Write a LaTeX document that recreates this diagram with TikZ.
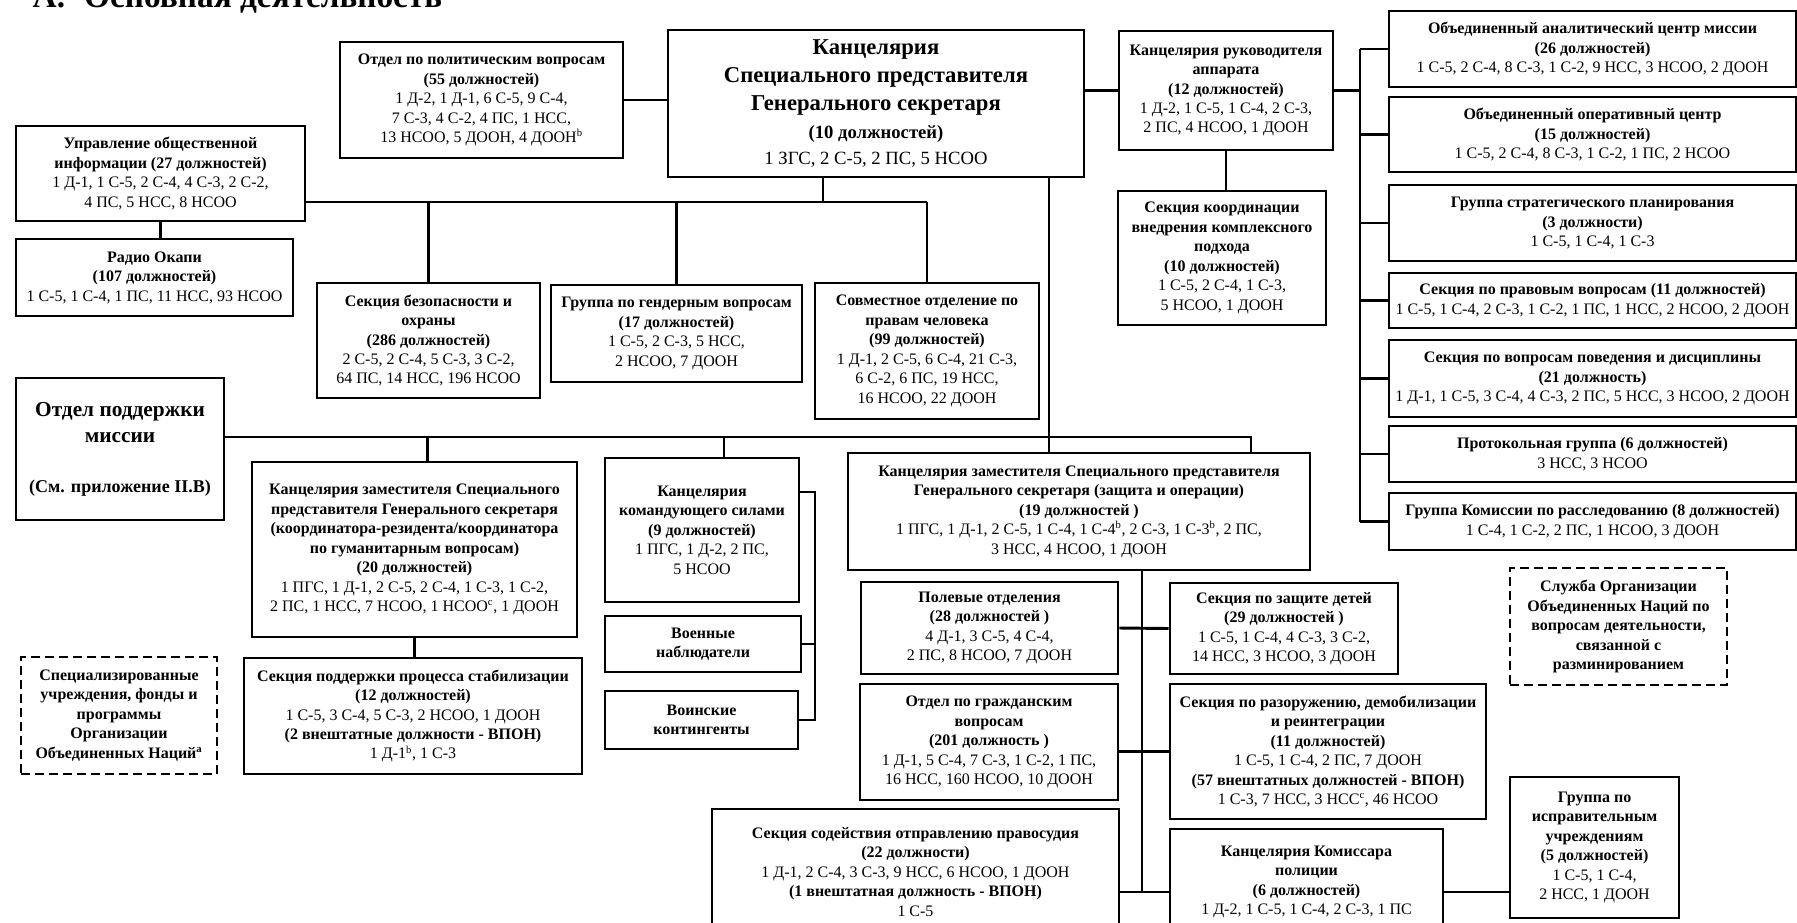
\documentclass[tikz,border=0pt]{standalone}
\usepackage{fontspec}
\setmainfont{Liberation Serif}
\newcommand{\hd}[1]{\textbf{#1}}
% box from (x1,y1) to (x2,y2), in pixels of the page
\newcommand{\orgbox}[7][]{%
  \pgfmathsetmacro{\bcx}{(#3+#5)/2}%
  \pgfmathsetmacro{\bcy}{(#4+#6)/2}%
  \pgfmathsetmacro{\bwd}{(#5-#3)*0.75}%
  \pgfmathsetmacro{\bht}{(#6-#4)*0.75}%
  \node[orgunit,#1,minimum width=\bwd pt,minimum height=\bht pt] (#2) at (\bcx,\bcy) {#7};}
\tikzset{
  orgunit/.style={draw, line width=2.2pt, align=center, inner sep=1pt,
    font=\fontsize{12}{14.6}\selectfont},
  allbold/.style={font=\fontsize{12}{14.6}\selectfont\bfseries},
  dashbox/.style={dash pattern=on 7pt off 3.5pt},
  link/.style={line width=2.2pt}
}
\begin{document}
\begin{tikzpicture}[x=0.75pt,y=-0.75pt]
  \useasboundingbox (0,0) rectangle (1797,922);
  \clip (0,0) rectangle (1797,922);

  \node[anchor=base west, font=\fontsize{25}{30}\selectfont\bfseries] (ttl) at (28,7) {А.\hspace{8pt} Основная деятельность};

  % top row
  \orgbox{polit}{340}{42}{623}{158}{\hd{Отдел по политическим вопросам}\\ \hd{(55 должностей)}\\ 1 Д-2, 1 Д-1, 6 С-5, 9 С-4,\\ 7 С-3, 4 С-2, 4 ПС, 1 НСС,\\ 13 НСОО, 5 ДООН, 4 ДООН\textsuperscript{b}}
  \orgbox[font=\fontsize{17}{21}\selectfont\bfseries]{srsg}{668}{30}{1084}{177}{Канцелярия\\ Специального представителя\\ Генерального секретаря\\ {\fontsize{14}{17}\selectfont (10 должностей)}\\[-2pt] {\fontsize{14}{17}\mdseries\selectfont 1 ЗГС, 2 С-5, 2 ПС, 5 НСОО}}
  \orgbox{kancruk}{1119}{31}{1333}{150}{\hd{Канцелярия руководителя}\\ \hd{аппарата}\\ \hd{(12 должностей)}\\ 1 Д-2, 1 С-5, 1 С-4, 2 С-3,\\ 2 ПС, 4 НСОО, 1 ДООН}
  \orgbox{koord}{1118}{191}{1326}{325}{\hd{Секция координации}\\ \hd{внедрения комплексного}\\ \hd{подхода}\\ \hd{(10 должностей)}\\ 1 С-5, 2 С-4, 1 С-3,\\ 5 НСОО, 1 ДООН}

  % right column
  \orgbox{r1}{1389}{11}{1796}{87}{\hd{Объединенный аналитический центр миссии}\\ \hd{(26 должностей)}\\ 1 С-5, 2 С-4, 8 С-3, 1 С-2, 9 НСС, 3 НСОО, 2 ДООН}
  \orgbox{r2}{1389}{97}{1796}{172}{\hd{Объединенный оперативный центр}\\ \hd{(15 должностей)}\\ 1 С-5, 2 С-4, 8 С-3, 1 С-2, 1 ПС, 2 НСОО}
  \orgbox{r3}{1389}{185}{1796}{261}{\hd{Группа стратегического планирования}\\ \hd{(3 должности)}\\ 1 С-5, 1 С-4, 1 С-3}
  \orgbox{r4}{1389}{273}{1796}{328}{\hd{Секция по правовым вопросам (11 должностей)}\\ 1 С-5, 1 С-4, 2 С-3, 1 С-2, 1 ПС, 1 НСС, 2 НСОО, 2 ДООН}
  \orgbox{r5}{1389}{340}{1796}{417}{\hd{Секция по вопросам поведения и дисциплины}\\ \hd{(21 должность)}\\ 1 Д-1, 1 С-5, 3 С-4, 4 С-3, 2 ПС, 5 НСС, 3 НСОО, 2 ДООН}
  \orgbox{r6}{1389}{426}{1796}{482}{\hd{Протокольная группа (6 должностей)}\\ 3 НСС, 3 НСОО}
  \orgbox{r7}{1389}{493}{1796}{550}{\hd{Группа Комиссии по расследованию (8 должностей)}\\ 1 С-4, 1 С-2, 2 ПС, 1 НСОО, 3 ДООН}

  % left and middle
  \orgbox{upr}{16}{126}{305}{221}{\hd{Управление общественной}\\ \hd{информации (27 должностей)}\\ 1 Д-1, 1 С-5, 2 С-4, 4 С-3, 2 С-2,\\ 4 ПС, 5 НСС, 8 НСОО}
  \orgbox{radio}{16}{239}{293}{316}{\hd{Радио Окапи}\\ \hd{(107 должностей)}\\ 1 С-5, 1 С-4, 1 ПС, 11 НСС, 93 НСОО}
  \orgbox{secur}{317}{283}{540}{398}{\hd{Секция безопасности и}\\ \hd{охраны}\\ \hd{(286 должностей)}\\ 2 С-5, 2 С-4, 5 С-3, 3 С-2,\\ 64 ПС, 14 НСС, 196 НСОО}
  \orgbox{gender}{551}{285}{802}{382}{\hd{Группа по гендерным вопросам}\\ \hd{(17 должностей)}\\ 1 С-5, 2 С-3, 5 НСС,\\ 2 НСОО, 7 ДООН}
  \orgbox{human}{815}{283}{1039}{419}{\hd{Совместное отделение по}\\ \hd{правам человека}\\ \hd{(99 должностей)}\\ 1 Д-1, 2 С-5, 6 С-4, 21 С-3,\\ 6 С-2, 6 ПС, 19 НСС,\\ 16 НСОО, 22 ДООН}
  \orgbox[font=\fontsize{16}{20}\selectfont\bfseries]{support}{16}{378}{224}{520}{Отдел поддержки\\ миссии\\[17pt] {\fontsize{13.5}{16}\selectfont (См. приложение II.В)}}
  \orgbox{deprc}{252}{462}{577}{637}{\hd{Канцелярия заместителя Специального}\\ \hd{представителя Генерального секретаря}\\ \hd{(координатора-резидента/координатора}\\ \hd{по гуманитарным вопросам)}\\ \hd{(20 должностей)}\\ 1 ПГС, 1 Д-1, 2 С-5, 2 С-4, 1 С-3, 1 С-2,\\ 2 ПС, 1 НСС, 7 НСОО, 1 НСОО\textsuperscript{c}, 1 ДООН}
  \orgbox{stab}{244}{658}{582}{774}{\hd{Секция поддержки процесса стабилизации}\\ \hd{(12 должностей)}\\ 1 С-5, 3 С-4, 5 С-3, 2 НСОО, 1 ДООН\\ \hd{(2 внештатные должности - ВПОН)}\\ 1 Д-1\textsuperscript{b}, 1 С-3}
  \orgbox[dashbox,allbold]{agencies}{21}{657}{217}{774}{Специализированные\\ учреждения, фонды и\\ программы\\ Организации\\ Объединенных Наций\textsuperscript{a}}
  \orgbox{fc}{605}{458}{799}{602}{\hd{Канцелярия}\\ \hd{командующего силами}\\ \hd{(9 должностей)}\\ 1 ПГС, 1 Д-2, 2 ПС,\\ 5 НСОО}
  \orgbox[allbold]{obs}{605}{616}{801}{672}{Военные\\ наблюдатели}
  \orgbox[allbold]{troops}{605}{691}{798}{749}{Воинские\\ контингенты}

  % protection and operations
  \orgbox{depz}{848}{453}{1310}{570}{\hd{Канцелярия заместителя Специального представителя}\\ \hd{Генерального секретаря (защита и операции)}\\ \hd{(19 должностей )}\\ 1 ПГС, 1 Д-1, 2 С-5, 1 С-4, 1 С-4\textsuperscript{b}, 2 С-3, 1 С-3\textsuperscript{b}, 2 ПС,\\ 3 НСС, 4 НСОО, 1 ДООН}
  \orgbox{field}{861}{582}{1118}{674}{\hd{Полевые отделения}\\ \hd{(28 должностей )}\\ 4 Д-1, 3 С-5, 4 С-4,\\ 2 ПС, 8 НСОО, 7 ДООН}
  \orgbox{civil}{860}{684}{1118}{800}{\hd{Отдел по гражданским}\\ \hd{вопросам}\\ \hd{(201 должность )}\\ 1 Д-1, 5 С-4, 7 С-3, 1 С-2, 1 ПС,\\ 16 НСС, 160 НСОО, 10 ДООН}
  \orgbox{justice}{712}{809}{1119}{935}{\hd{Секция содействия отправлению правосудия}\\ \hd{(22 должности)}\\ 1 Д-1, 2 С-4, 3 С-3, 9 НСС, 6 НСОО, 1 ДООН\\ \hd{(1 внештатная должность - ВПОН)}\\ 1 С-5}
  \orgbox{child}{1170}{583}{1398}{674}{\hd{Секция по защите детей}\\ \hd{(29 должностей )}\\ 1 С-5, 1 С-4, 4 С-3, 3 С-2,\\ 14 НСС, 3 НСОО, 3 ДООН}
  \orgbox{ddr}{1170}{684}{1486}{819}{\hd{Секция по разоружению, демобилизации}\\ \hd{и реинтеграции}\\ \hd{(11 должностей)}\\ 1 С-5, 1 С-4, 2 ПС, 7 ДООН\\ \hd{(57 внештатных должностей - ВПОН)}\\ 1 С-3, 7 НСС, 3 НСС\textsuperscript{c}, 46 НСОО}
  \orgbox{police}{1170}{829}{1443}{935}{\hd{Канцелярия Комиссара}\\ \hd{полиции}\\ \hd{(6 должностей)}\\ 1 Д-2, 1 С-5, 1 С-4, 2 С-3, 1 ПС}
  \orgbox{prisons}{1510}{777}{1679}{918}{\hd{Группа по}\\ \hd{исправительным}\\ \hd{учреждениям}\\ \hd{(5 должностей)}\\ 1 С-5, 1 С-4,\\ 2 НСС, 1 ДООН}
  \orgbox[dashbox,allbold]{mine}{1510}{568}{1727}{685}{Служба Организации\\ Объединенных Наций по\\ вопросам деятельности,\\ связанной с\\ разминированием}

  % junctions
  \coordinate (hub1) at (823,202);
  \coordinate (hub2) at (1049,437);
  \coordinate (drop) at (1251,437);
  \coordinate (spine) at (1360,49);
  \coordinate (spine2) at (1142,892);
  \coordinate (brk) at (815,492);

  % links
  \draw[link] (polit.east) -- (srsg.west |- polit.east);
  \draw[link] (srsg.east |- kancruk.west) -- (kancruk.west);
  \draw[link] (kancruk.south) -- (kancruk.south |- koord.north);
  \draw[link] (kancruk.east) -- (spine |- kancruk.east);
  \draw[link] (spine) -- (spine |- r7.west);
  \foreach \n in {r1,r2,r3,r4,r5,r6,r7}
    \draw[link] (spine |- \n.west) -- (\n.west);

  \draw[link] (hub1 |- srsg.south) -- (hub1);
  \draw[link] (upr.east |- hub1) -- (human.north |- hub1);
  \foreach \n in {secur,gender,human}
    \draw[link] (\n.north |- hub1) -- (\n.north);
  \draw[link] (upr.south) -- (upr.south |- radio.north);

  \draw[link] (hub2 |- srsg.south) -- (hub2 |- depz.north);
  \draw[link] (support.east |- hub2) -- (drop) -- (drop |- depz.north);
  \draw[link] ([xshift=10pt]deprc.north) -- ([xshift=10pt]deprc.north |- hub2);
  \draw[link] ([xshift=16.5pt]fc.north) -- ([xshift=16.5pt]fc.north |- hub2);
  \draw[link] (deprc.south) -- (deprc.south |- stab.north);

  \draw[link] (fc.east |- brk) -- (brk) -- (brk |- troops.east) -- (troops.east);
  \draw[link] (obs.east) -- (brk |- obs.east);

  \draw[link] (spine2 |- depz.south) -- (spine2);
  \draw[link] (field.east) -- (child.west);
  \draw[link] (civil.east |- ddr.west) -- (ddr.west);
  \draw[link] (justice.east |- spine2) -- (police.west |- spine2);
  \draw[link] (police.east |- spine2) -- (prisons.west |- spine2);
\end{tikzpicture}
\end{document}
